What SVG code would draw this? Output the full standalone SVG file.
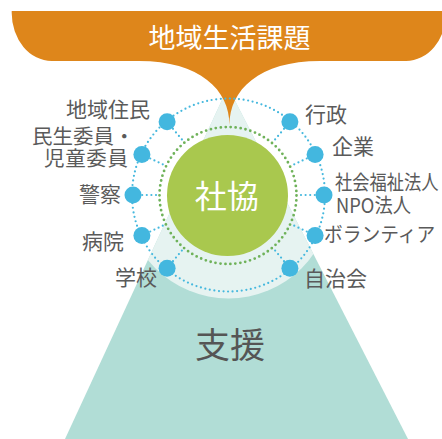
<svg xmlns="http://www.w3.org/2000/svg" width="442" height="439" viewBox="0 0 442 439">
<defs>
<style>
.lbl{font-family:"Noto Sans CJK JP","Noto Sans CJK SC",sans-serif;font-size:21px;fill:#5a5a5a}
.sm{font-size:20.5px}
.blue{fill:none;stroke:#45b8de;stroke-width:2.2;stroke-linecap:round;stroke-dasharray:0 4.6}
.green{fill:none;stroke:#6fb25a;stroke-width:2.8;stroke-linecap:round;stroke-dasharray:0 5}
.node{fill:#43b7df}
</style>
<clipPath id="tri"><polygon points="228,87 65,439 408,439"/></clipPath>
</defs>
<g id="support">
<polygon points="228,87 65,439 408,439" fill="#b1ddd6"/>
<circle cx="228.5" cy="195" r="103.5" fill="#e6f3f1" clip-path="url(#tri)"/>
<text x="230" y="357.5" text-anchor="middle" font-family="Noto Sans CJK JP, sans-serif" font-size="35" fill="#555">支援</text>
</g>
<g id="issue">
<path d="M11.7,11 H446 V13 A40 48 0 0 1 406,61 H320 C259,61 229.5,90 229.5,125 C229.5,90 200,61 139,61 H51.7 A40 48 0 0 1 11.7,13 Z" fill="#de861b"/>
<text x="229.5" y="48" text-anchor="middle" font-family="Noto Sans CJK JP, sans-serif" font-size="27" fill="#fff">地域生活課題</text>
</g>
<g id="connectors">
<circle class="blue" cx="228.5" cy="195" r="96.5"/>
<line class="blue" x1="167.1" y1="121.8" x2="183.5" y2="141.4"/>
<line class="blue" x1="141.9" y1="154.6" x2="165.1" y2="165.4"/>
<line class="blue" x1="133" y1="195" x2="158.5" y2="195"/>
<line class="blue" x1="141.9" y1="235.4" x2="165.1" y2="224.6"/>
<line class="blue" x1="167.1" y1="268.2" x2="183.5" y2="248.6"/>
<line class="blue" x1="289.9" y1="121.8" x2="273.5" y2="141.4"/>
<line class="blue" x1="315.1" y1="154.6" x2="291.9" y2="165.4"/>
<line class="blue" x1="324" y1="195" x2="298.5" y2="195"/>
<line class="blue" x1="315.1" y1="235.4" x2="291.9" y2="224.6"/>
<line class="blue" x1="289.9" y1="268.2" x2="273.5" y2="248.6"/>
<circle class="green" cx="228" cy="195.5" r="68.5"/>
</g>
<g id="shakyo">
<circle cx="227.5" cy="195.5" r="60.5" fill="#a9c84e"/>
<text x="226.7" y="207.5" text-anchor="middle" font-family="Noto Sans CJK JP, sans-serif" font-size="32" fill="#fff">社協</text>
</g>
<g id="n-chiiki"><circle class="node" cx="167.1" cy="121.8" r="8.5"/><text class="lbl" x="66" y="117" textLength="84">地域住民</text></g>
<g id="n-minsei"><circle class="node" cx="141.9" cy="154.6" r="8.5"/><text class="lbl sm" x="32" y="143.5">民生委員・</text><text class="lbl sm" x="44" y="165.5" textLength="84">児童委員</text></g>
<g id="n-keisatsu"><circle class="node" cx="133" cy="195" r="8.5"/><text class="lbl" x="79" y="202">警察</text></g>
<g id="n-byoin"><circle class="node" cx="141.9" cy="235.4" r="8.5"/><text class="lbl" x="82" y="248.5">病院</text></g>
<g id="n-gakko"><circle class="node" cx="167.1" cy="268.2" r="8.5"/><text class="lbl" x="115" y="285">学校</text></g>
<g id="n-gyosei"><circle class="node" cx="289.9" cy="121.8" r="8.5"/><text class="lbl" x="305" y="121.5">行政</text></g>
<g id="n-kigyo"><circle class="node" cx="315.1" cy="154.6" r="8.5"/><text class="lbl" x="332" y="153.5">企業</text></g>
<g id="n-fukushi"><circle class="node" cx="324" cy="195" r="8.5"/><text class="lbl sm" transform="translate(335 190) scale(0.843 1)" x="0" y="0">社会福祉法人</text><text class="lbl sm" x="336" y="212.5" textLength="75" lengthAdjust="spacingAndGlyphs">NPO法人</text></g>
<g id="n-volunteer"><circle class="node" cx="315.1" cy="235.4" r="8.5"/><text class="lbl sm" transform="translate(324 242) scale(0.915 1)" x="0" y="0">ボランティア</text></g>
<g id="n-jichikai"><circle class="node" cx="289.9" cy="268.2" r="8.5"/><text class="lbl" x="304" y="285.5">自治会</text></g>
</svg>
